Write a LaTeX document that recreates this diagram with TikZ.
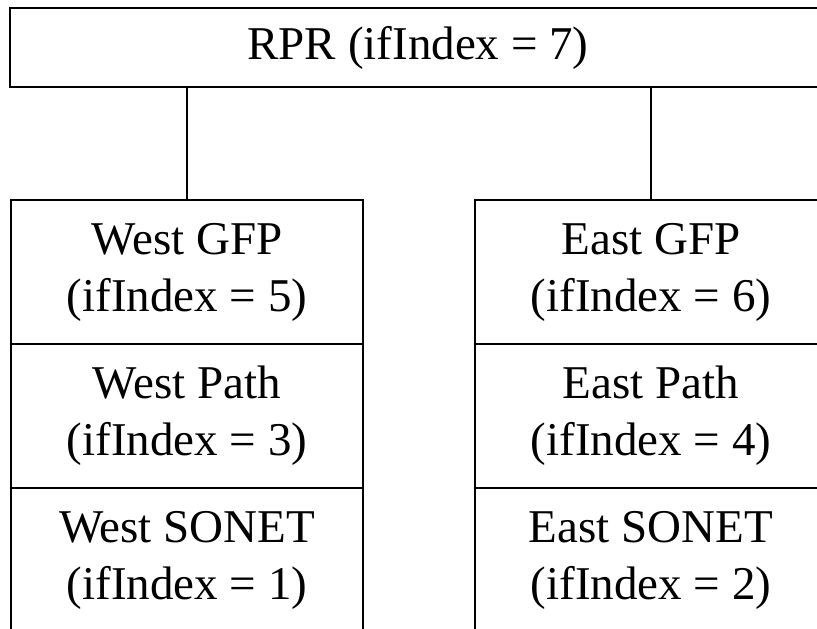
\documentclass[tikz,border=0pt]{standalone}
\usepackage{fontspec}
\setmainfont{Liberation Serif}

\tikzset{
  cell/.style={draw,line width=1.8pt,minimum width=352pt,minimum height=144pt,
    inner sep=0pt,align=center,font=\fontsize{47}{57}\selectfont},
  topbox/.style={draw,line width=1.8pt,minimum width=816pt,minimum height=79pt,
    inner sep=0pt,font=\fontsize{47}{57}\selectfont},
  link/.style={line width=1.8pt}
}

\begin{document}
\begin{tikzpicture}[x=1pt,y=-1pt]
\clip (0,0) rectangle (817,629);
\node[topbox] (rpr) at (418,47.5) {RPR (ifIndex = 7)};
\node[cell] (wgfp) at (187,272) {West GFP\\(ifIndex = 5)};
\node[cell] (wpath) at (187,416) {West Path\\(ifIndex = 3)};
\node[cell] (wsonet) at (187,560) {West SONET\\(ifIndex = 1)};
\node[cell] (egfp) at (651,272) {East GFP\\(ifIndex = 6)};
\node[cell] (epath) at (651,416) {East Path\\(ifIndex = 4)};
\node[cell] (esonet) at (651,560) {East SONET\\(ifIndex = 2)};
\draw[link] (rpr.south -| wgfp.north) -- (wgfp.north);
\draw[link] (rpr.south -| egfp.north) -- (egfp.north);
\end{tikzpicture}
\end{document}
